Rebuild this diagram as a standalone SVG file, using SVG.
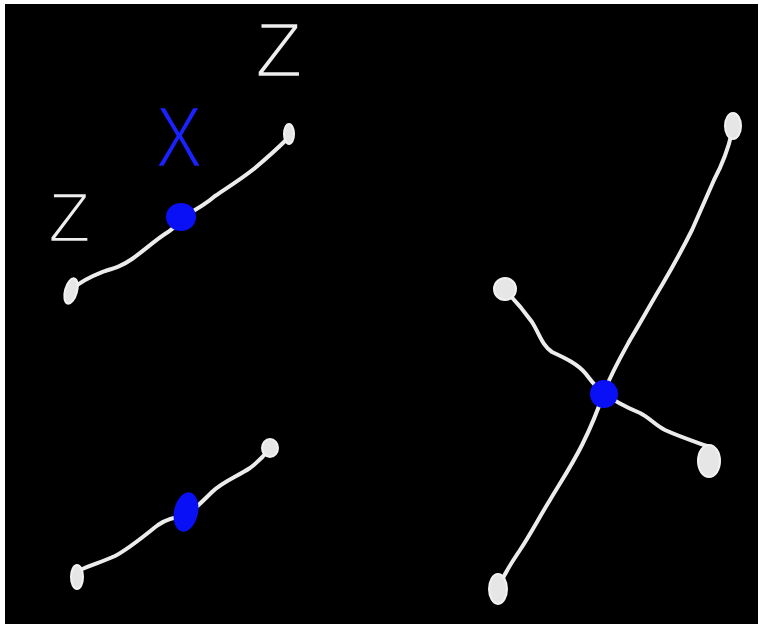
<svg xmlns="http://www.w3.org/2000/svg" width="759" height="627" viewBox="0 0 759 627">
<style>
.wire{fill:none;stroke:#ececec;stroke-width:4;stroke-linecap:round;stroke-linejoin:round}
.end{fill:#e6e6e6;stroke:#f2f2f2;stroke-width:2}
.vtx{fill:#0a10f5}
.lbl{font-family:"Liberation Sans",Arial,sans-serif;fill:#eeeeee;stroke:#000000;stroke-width:2.5}
.lblx{font-family:"Liberation Sans",Arial,sans-serif;fill:#1a22ff;stroke:#000000;stroke-width:2.5}
</style>
<rect x="0" y="0" width="759" height="627" fill="#ffffff"/>
<rect x="5" y="4" width="753" height="620" fill="#000000"/>
<g id="connectors">
  <path class="wire" d="M74,288 C82,280 95,275 105,271 C115,268 122,266 132,259 C145,250 155,240 168,232 C172,229 176,227 181,218 C192,212 205,205 215,196 C228,187 240,180 255,168 C268,157 278,148 286,140"/>
  <path class="wire" d="M80,570 C90,565 102,562 115,556 C130,548 145,535 158,525 C165,520 172,517 186,516 C196,508 204,500 212,492 C222,482 238,476 250,468 C258,462 264,456 270,448"/>
  <path class="wire" d="M732,132 C728,150 722,165 714,180 C706,198 700,212 692,230 C682,250 672,268 662,285 C650,305 642,320 630,340 C620,358 612,372 604,392 C598,410 592,425 582,445 C572,465 562,480 550,500 C540,516 530,535 520,550 C512,562 505,572 498,588"/>
  <path class="wire" d="M505,290 C515,300 522,308 532,322 C540,335 542,345 552,352 C565,358 578,364 586,374 C592,382 596,388 604,393"/>
  <path class="wire" d="M604,393 C615,402 628,408 640,413 C650,418 655,425 665,430 C678,436 690,440 707,446"/>
</g>
<g id="node-a-left"><ellipse class="end" cx="71" cy="291" rx="6" ry="13" transform="rotate(15 71 291)"/></g>
<g id="node-a-right"><ellipse class="end" cx="289" cy="134" rx="5" ry="10"/></g>
<g id="node-a-center"><ellipse class="vtx" cx="181" cy="217" rx="15" ry="14"/></g>
<g id="label-z-top"><text class="lbl" x="255" y="77" font-size="78">Z</text></g>
<g id="label-z-left"><text class="lbl" x="48" y="242" font-size="70">Z</text></g>
<g id="label-x"><text class="lblx" x="155" y="167" font-size="88" textLength="48" lengthAdjust="spacingAndGlyphs">X</text></g>
<g id="node-b-left"><ellipse class="end" cx="77" cy="577" rx="6" ry="12"/></g>
<g id="node-b-right"><ellipse class="end" cx="270" cy="448" rx="8" ry="9"/></g>
<g id="node-b-center"><ellipse class="vtx" cx="186" cy="512" rx="12" ry="20" transform="rotate(12 186 512)"/></g>
<g id="node-c-top"><ellipse class="end" cx="733" cy="126" rx="8" ry="13"/></g>
<g id="node-c-left"><ellipse class="end" cx="505" cy="289" rx="11" ry="11"/></g>
<g id="node-c-right"><ellipse class="end" cx="709" cy="461" rx="11" ry="16"/></g>
<g id="node-c-bottom"><ellipse class="end" cx="498" cy="589" rx="9" ry="15"/></g>
<g id="node-c-center"><circle class="vtx" cx="604" cy="394" r="14"/></g>
</svg>
